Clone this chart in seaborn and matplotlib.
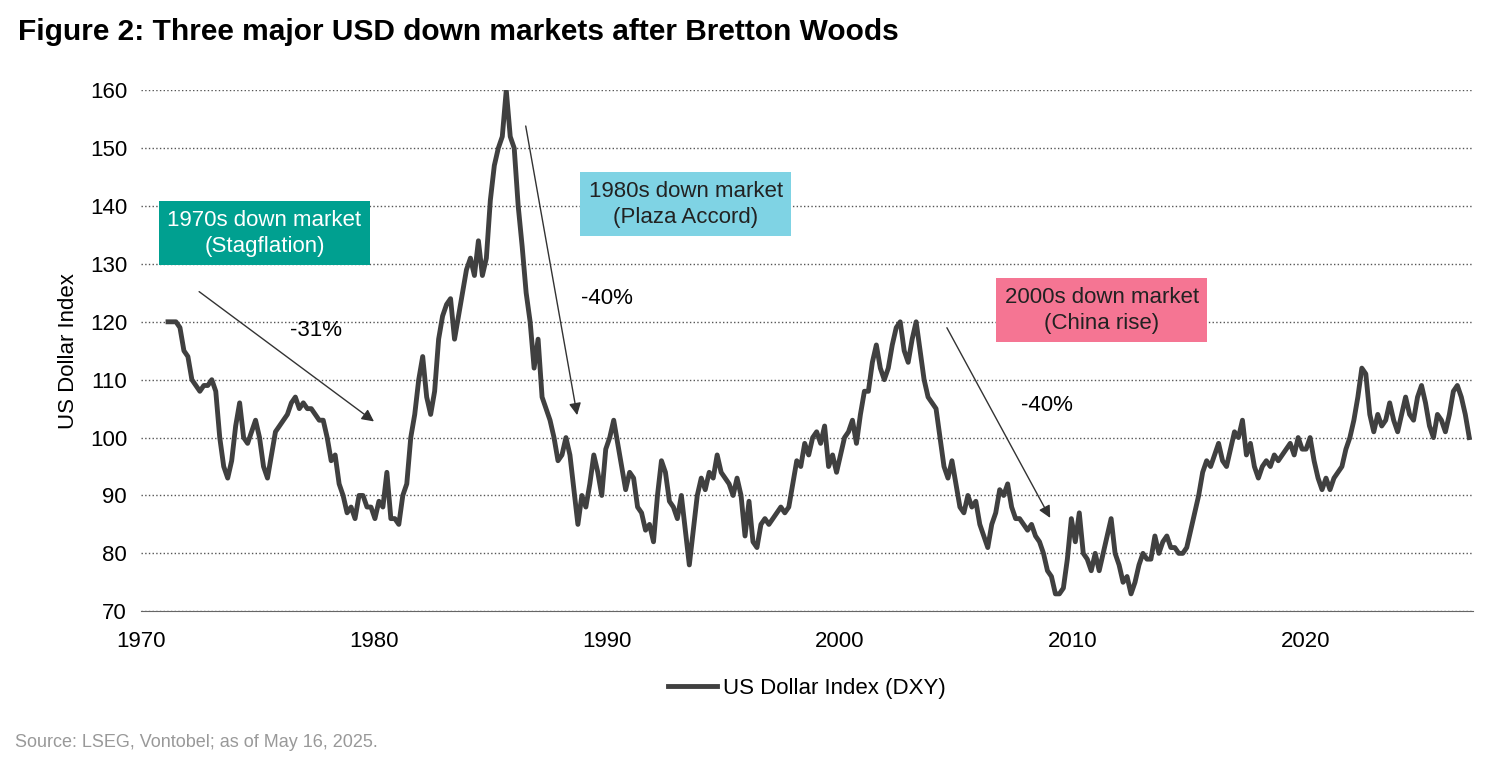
import numpy as np
import pandas as pd
import matplotlib
matplotlib.use("Agg")
import matplotlib.pyplot as plt
import seaborn as sns

# ---------------------------------------------------------------------------
# Data (roughly evenly spaced samples)
# ---------------------------------------------------------------------------
x_start, x_end = 1971.16, 2027.04
dxy = [
    120, 120, 120, 119, 115, 114, 110, 109, 108, 109, 109, 110, 108, 100, 95, 93,
    96, 102, 106, 100, 99, 101, 103, 100, 95, 93, 97, 101, 102, 103, 104, 106,
    107, 105, 106, 105, 105, 104, 103, 103, 100, 96, 97, 92, 90, 87, 88, 86,
    90, 90, 88, 88, 86, 89, 88, 94, 86, 86, 85, 90, 92, 100, 104, 110,
    114, 107, 104, 108, 117, 121, 123, 124, 117, 121, 125, 129, 131, 128, 134, 128,
    131, 141, 147, 150, 152, 160, 152, 150, 140, 133, 125, 120, 112, 117, 107, 105,
    103, 100, 96, 97, 100, 97, 91, 85, 90, 88, 92, 97, 94, 90, 98, 100,
    103, 99, 95, 91, 94, 93, 88, 87, 84, 85, 82, 90, 96, 94, 89, 88,
    86, 90, 84, 78, 84, 90, 93, 91, 94, 93, 97, 94, 93, 92, 90, 93,
    90, 83, 89, 82, 81, 85, 86, 85, 86, 87, 88, 87, 88, 92, 96, 95,
    99, 97, 100, 101, 99, 102, 95, 97, 94, 97, 100, 101, 103, 99, 104, 108,
    108, 113, 116, 112, 110, 112, 116, 119, 120, 115, 113, 117, 120, 115, 110, 107,
    106, 105, 100, 95, 93, 96, 92, 88, 87, 90, 88, 89, 85, 83, 81, 85,
    87, 91, 90, 92, 88, 86, 86, 85, 84, 85, 83, 82, 80, 77, 76, 73,
    73, 74, 79, 86, 82, 87, 80, 79, 77, 80, 77, 80, 83, 86, 80, 78,
    75, 76, 73, 75, 78, 80, 79, 79, 83, 80, 82, 83, 81, 81, 80, 80,
    81, 84, 87, 90, 94, 96, 95, 97, 99, 96, 95, 98, 101, 100, 103, 97,
    99, 95, 93, 95, 96, 95, 97, 96, 97, 98, 99, 97, 100, 98, 98, 100,
    96, 93, 91, 93, 91, 93, 94, 95, 98, 100, 103, 107, 112, 111, 104, 101,
    104, 102, 103, 106, 103, 101, 104, 107, 104, 103, 107, 109, 106, 102, 100, 104,
    103, 101, 104, 108, 109, 107, 104, 100,
]
years = np.linspace(x_start, x_end, len(dxy))
df = pd.DataFrame({"Year": years, "US Dollar Index (DXY)": dxy})

# ---------------------------------------------------------------------------
# Plot
# ---------------------------------------------------------------------------
plt.rcParams["font.family"] = "Liberation Sans"
fig = plt.figure(figsize=(15, 7.65), dpi=100)
ax = fig.add_axes([0.094, 0.201, 0.888, 0.681])

sns.lineplot(data=df, x="Year", y="US Dollar Index (DXY)", color="#404040", lw=3.5,
             label="US Dollar Index (DXY)", ax=ax)

ax.set_xlim(1970, 2027.2)
ax.set_ylim(70, 160)
ax.set_xticks([1970, 1980, 1990, 2000, 2010, 2020])
ax.set_yticks(range(70, 161, 10))
ax.tick_params(labelsize=16, length=0)
ax.tick_params(axis="x", pad=14)
ax.tick_params(axis="y", pad=10)
ax.set_xlabel("")
ax.set_ylabel("US Dollar Index", fontsize=16, labelpad=8)
ax.grid(axis="y", linestyle=":", color="#555555", lw=1)
ax.spines[["top", "right", "left"]].set_visible(False)
ax.spines["bottom"].set_color("#666666")

# Boxes
box_kw = dict(fontsize=16, ha="center", va="center", linespacing=1.3)
ax.text(1975.3, 135.3, "1970s down market\n(Stagflation)", color="white",
        bbox=dict(fc="#00A090", ec="none", pad=6), **box_kw)
ax.text(1993.4, 140.3, "1980s down market\n(Plaza Accord)", color="#222222",
        bbox=dict(fc="#7FD3E4", ec="none", pad=6), **box_kw)
ax.text(2011.25, 122, "2000s down market\n(China rise)", color="#222222",
        bbox=dict(fc="#F57593", ec="none", pad=6), **box_kw)

# Arrows and drops
arrow_kw = dict(arrowstyle="-|>", color="#333333", lw=1, mutation_scale=18)
ax.annotate("", xy=(1980.1, 102.5), xytext=(1972.4, 125.5), arrowprops=arrow_kw)
ax.annotate("", xy=(1988.75, 103.4), xytext=(1986.5, 154.3), arrowprops=arrow_kw)
ax.annotate("", xy=(2009.1, 85.7), xytext=(2004.55, 119.4), arrowprops=arrow_kw)
ax.text(1977.5, 118.5, "-31%", fontsize=16, ha="center", va="center")
ax.text(1990.0, 124, "-40%", fontsize=16, ha="center", va="center")
ax.text(2008.9, 105.6, "-40%", fontsize=16, ha="center", va="center")

ax.legend(loc="upper center", bbox_to_anchor=(0.5, -0.09), frameon=False,
          fontsize=16, handlelength=2.2, handletextpad=0.3)

fig.text(0.012, 0.958, "Figure 2: Three major USD down markets after Bretton Woods",
         fontsize=21.5, fontweight="bold", va="center")
fig.text(0.01, 0.03, "Source: LSEG, Vontobel; as of May 16, 2025.",
         fontsize=13, color="#999999", va="center")

fig.savefig("out.png", dpi=100)
